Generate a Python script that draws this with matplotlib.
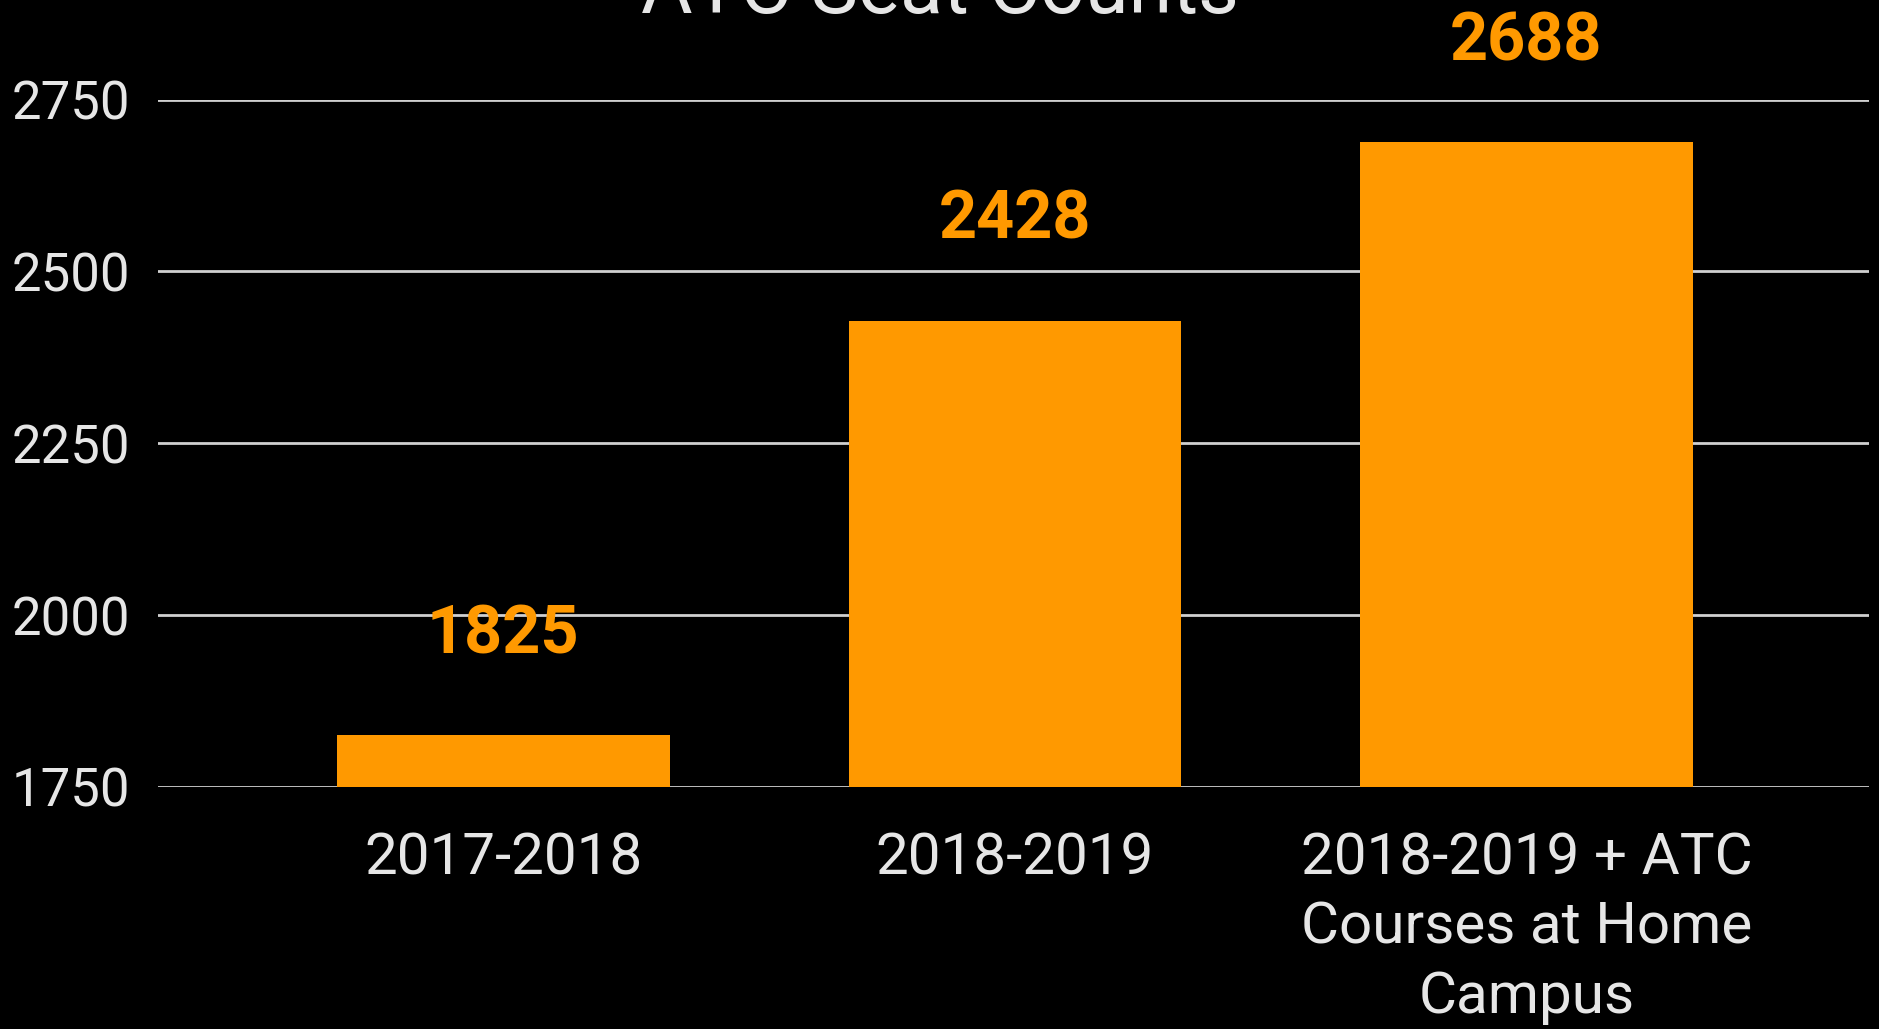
import matplotlib
matplotlib.use("Agg")
import matplotlib.pyplot as plt

categories = ["2017-2018", "2018-2019", "2018-2019 + ATC\nCourses at Home\nCampus"]
seat_counts = [1825, 2428, 2688]
y_ticks = [1750, 2000, 2250, 2500, 2750]

bar_color = "#FF9900"
text_color = "#E6E6E6"
grid_color = "#D0D0D0"

plt.rcParams["font.family"] = ["Roboto", "DejaVu Sans"]

fig = plt.figure(figsize=(18.79, 10.29), dpi=100, facecolor="black")
ax = fig.add_axes([0.0841, 0.2352, 0.9106, 0.6681], facecolor="black")

x = range(len(categories))
ax.bar(x, seat_counts, width=0.65, color=bar_color, zorder=3)

for xi, val in zip(x, seat_counts):
    ax.annotate(str(val), (xi, val), xytext=(0, 72), textcoords="offset points",
                ha="center", va="center", fontsize=48, fontweight="bold",
                color=bar_color, annotation_clip=False, zorder=4)

ax.set_xlim(-0.675, 2.67)
ax.set_ylim(1750, 2750)
ax.set_yticks(y_ticks)
ax.set_xticks(list(x))
ax.set_xticklabels(categories, fontsize=42, color=text_color, linespacing=1.33)
ax.tick_params(axis="y", length=0, pad=20, labelsize=38, labelcolor=text_color)
ax.tick_params(axis="x", length=0, pad=32)

ax.grid(axis="y", color=grid_color, linewidth=2, zorder=0)
for s in ax.spines.values():
    s.set_visible(False)

fig.text(0.5, 1 - 13 / 1029, "ATC Seat Counts", ha="center", va="baseline",
         fontsize=57, color=text_color)

fig.savefig("out.png", dpi=100, facecolor="black")
